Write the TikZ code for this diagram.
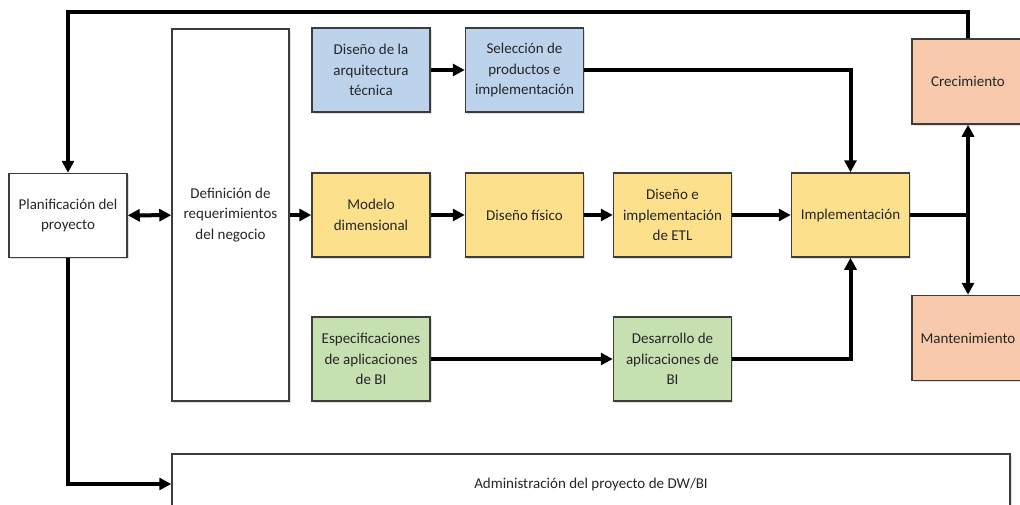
\documentclass[tikz,border=0pt]{standalone}
\usepackage{fontspec}
\setmainfont{Carlito}
\usepackage{tikz}
\usetikzlibrary{arrows.meta, shadows}
\usepackage{xcolor}

\definecolor{azul}{HTML}{BDD3EC}
\definecolor{amarillo}{HTML}{FDE08C}
\definecolor{verde}{HTML}{C6E0B2}
\definecolor{naranja}{HTML}{F8CAAB}
\definecolor{borde}{HTML}{3C3C3C}
\definecolor{texto}{HTML}{262626}

\tikzset{
  caja/.style={draw=borde, line width=1.5pt, fill=white, align=center,
    text=texto, font=\fontsize{15}{20.7}\selectfont,
    minimum width=118pt, minimum height=84pt, inner sep=2pt,
    drop shadow={opacity=0.25, shadow xshift=1.5pt, shadow yshift=-1.5pt}},
  conn/.style={line width=4pt, -{Triangle[length=12pt, width=12pt]}},
  linea/.style={line width=4pt}
}

\begin{document}
\begin{tikzpicture}[x=1pt, y=-1pt]
				\useasboundingbox (0,0) rectangle (1020,504);
				\clip (0,0) rectangle (1020,504);
				% cajas principales
				\node[caja] (plan) at (68,215.5) {Planificación del\\proyecto};
				\node[caja, minimum width=117pt, minimum height=372pt] (req) at (230.5,215) {Definición de\\requerimientos\\del negocio};
				% fila tecnica
				\node[caja, fill=azul] (arq) at (371,70) {Diseño de la\\arquitectura\\técnica};
				\node[caja, fill=azul] (sel) at (524.5,70) {Selección de\\productos e\\implementación};
				% fila de datos
				\node[caja, fill=amarillo] (modelo) at (371,215) {Modelo\\dimensional};
				\node[caja, fill=amarillo] (fisico) at (524.5,215) {Diseño físico};
				\node[caja, fill=amarillo] (etl) at (672.5,215) {Diseño e\\implementación\\de ETL};
				\node[caja, fill=amarillo] (impl) at (850.5,215) {Implementación};
				% fila de aplicaciones
				\node[caja, fill=verde] (espec) at (371,359) {Especificaciones\\de aplicaciones\\de BI};
				\node[caja, fill=verde] (desa) at (672.5,359) {Desarrollo de\\aplicaciones de\\BI};
				% despliegue
				\node[caja, fill=naranja, minimum width=112pt, minimum height=85pt] (crec) at (968,81.5) {Crecimiento};
				\node[caja, fill=naranja, minimum width=112pt, minimum height=85pt] (mant) at (968,338) {Mantenimiento};
				\node[caja, minimum width=838pt, minimum height=60pt] (admin) at (591,484) {Administración del proyecto de DW/BI};
				% conectores
				\coordinate (arriba) at (68,12);
				\coordinate (cruce) at (968,215);
				\draw[conn] (crec.north) |- (arriba) -- (plan.north);
				\draw[conn, {Triangle[length=12pt, width=12pt]}-{Triangle[length=12pt, width=12pt]}] (plan) -- (req);
				\draw[conn] (plan.south) |- (admin.west);
				\draw[conn] (req.east |- modelo) -- (modelo);
				\draw[conn] (modelo) -- (fisico);
				\draw[conn] (fisico) -- (etl);
				\draw[conn] (etl) -- (impl);
				\draw[conn] (arq) -- (sel);
				\draw[conn] (sel.east) -| (impl.north);
				\draw[conn] (espec) -- (desa);
				\draw[conn] (desa.east) -| (impl.south);
				\draw[linea] (impl.east) -- (cruce);
				\draw[conn] (cruce) -- (crec.south);
				\draw[conn] (cruce) -- (mant.north);
			\end{tikzpicture}
\end{document}
